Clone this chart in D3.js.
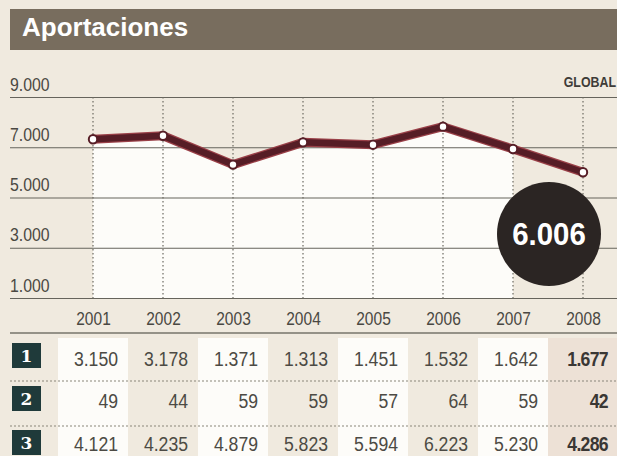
<!DOCTYPE html>
<html>
<head>
<meta charset="utf-8">
<script src="https://cdn.jsdelivr.net/npm/d3@7"></script>
<style>
  html, body { margin: 0; padding: 0; background: #f0eadf; }
  svg { display: block; }
  .num { font-family: "Liberation Sans Narrow", "Liberation Sans", Arial, sans-serif; }
</style>
</head>
<body>
<div id="chart"></div>
<script>
// ---- data ----
const years = ["2001", "2002", "2003", "2004", "2005", "2006", "2007", "2008"];
const totals = [7320, 7457, 6309, 7195, 7102, 7819, 6931, 6006];
const row1 = [3150, 3178, 1371, 1313, 1451, 1532, 1642, 1677];
const row2 = [49, 44, 59, 59, 57, 64, 59, 42];
const row3 = [4121, 4235, 4879, 5823, 5594, 6223, 5230, 4286];
const rowLabels = ["1", "2", "3"];
const yTicks = [9000, 7000, 5000, 3000, 1000];
const title = "Aportaciones";
const seriesLabel = "GLOBAL";
const highlight = "6.006";

const W = 617, H = 456;
const SX = 0.84; // horizontal condensing to imitate the narrow newspaper face
const loc = d3.formatLocale({ decimal: ",", thousands: ".", grouping: [3], currency: ["", "€"] });
const fmt = loc.format(",d");

const svg = d3.select("#chart").append("svg").attr("width", W).attr("height", H);

svg.append("rect").attr("width", W).attr("height", H).attr("fill", "#f0eadf");

// title bar
svg.append("rect").attr("x", 10).attr("y", 9).attr("width", W - 10).attr("height", 41).attr("fill", "#786d5e");
svg.append("text").attr("transform", "translate(22,36)")
  .attr("font-family", "'Liberation Sans', Arial, sans-serif").attr("font-weight", "bold")
  .attr("font-size", 26).attr("fill", "#ffffff").text(title);

// scales
const x = d3.scalePoint().domain(years).range([93, 583]);
const y = d3.scaleLinear().domain([1000, 9000]).range([298, 97]);

// white area under the line (2001-2007)
const areaData = years.slice(0, 7).map((yr, i) => ({ yr, v: totals[i] }));
svg.append("path").datum(areaData)
  .attr("fill", "#fdfcf9")
  .attr("d", d3.area().x(d => x(d.yr)).y0(y(1000)).y1(d => y(d.v)));

// horizontal gridlines + y labels via axis
const yAxis = d3.axisLeft(y).tickValues(yTicks).tickSize(-(W - 10)).tickFormat(fmt);
const gy = svg.append("g").attr("transform", `translate(10,0)`).call(yAxis);
gy.select(".domain").remove();
gy.selectAll(".tick line").attr("stroke", "#66645c").attr("stroke-width", 1.2);
gy.selectAll(".tick text")
  .attr("class", "num").attr("x", 0).attr("y", -7).attr("dy", 0).attr("text-anchor", "start")
  .attr("transform", `scale(${SX + 0.04},1)`)
  .attr("font-size", 18).attr("fill", "#4a4842");

// vertical dotted gridlines
svg.append("g").selectAll("line").data(years).join("line")
  .attr("x1", d => x(d)).attr("x2", d => x(d))
  .attr("y1", y(9000)).attr("y2", y(1000))
  .attr("stroke", "#6d6a62").attr("stroke-width", 1.2).attr("stroke-dasharray", "1.5,2.5");

// GLOBAL label
svg.append("text").attr("transform", `translate(616,87) scale(0.8,1)`).attr("text-anchor", "end")
  .attr("class", "num").attr("font-weight", "bold").attr("font-size", 15.5)
  .attr("fill", "#3e3c38").text(seriesLabel);

// line
const pts = years.map((yr, i) => ({ yr, v: totals[i] }));
const lineGen = d3.line().x(d => x(d.yr)).y(d => y(d.v));
svg.append("path").datum(pts).attr("fill", "none").attr("stroke", "#9a4048")
  .attr("stroke-width", 9).attr("stroke-linejoin", "round").attr("d", lineGen);
svg.append("path").datum(pts).attr("fill", "none").attr("stroke", "#561d26")
  .attr("stroke-width", 6.5).attr("stroke-linejoin", "round").attr("d", lineGen);
svg.append("g").selectAll("circle").data(pts).join("circle")
  .attr("cx", d => x(d.yr)).attr("cy", d => y(d.v)).attr("r", 4.2)
  .attr("fill", "#ffffff").attr("stroke", "#561d26").attr("stroke-width", 2);

// highlight bubble
svg.append("circle").attr("cx", 549).attr("cy", 234).attr("r", 52).attr("fill", "#2b2523");
svg.append("text").attr("transform", "translate(549,245) scale(0.95,1)").attr("text-anchor", "middle")
  .attr("font-family", "'Liberation Sans', Arial, sans-serif").attr("font-weight", "bold")
  .attr("font-size", 31).attr("fill", "#ffffff").text(highlight);

// year labels via bottom axis
const xAxis = d3.axisBottom(x).tickSize(0).tickPadding(0);
const gx = svg.append("g").attr("transform", `translate(0,325)`).call(xAxis);
gx.select(".domain").remove();
gx.selectAll(".tick text").attr("class", "num").attr("dy", 0).attr("y", 0)
  .attr("transform", `scale(${SX},1)`)
  .attr("font-size", 18.5).attr("fill", "#4a4842");

// table
const rows = [row1, row2, row3];
const rowBase = [366, 408, 451];
const boxTop = [343, 386, 430];
const colW = x.step();

svg.append("g").selectAll("rect").data(years).join("rect")
  .attr("x", d => x(d) - colW / 2).attr("y", 338).attr("width", colW).attr("height", H - 338)
  .attr("fill", (d, i) => i === 7 ? "#ede1d6" : (i % 2 === 0 ? "#fdfcf9" : "#f0eadf"));

svg.append("line").attr("x1", 10).attr("x2", W).attr("y1", 333).attr("y2", 333)
  .attr("stroke", "#77746b").attr("stroke-width", 1.5);
svg.append("g").selectAll("line").data([381, 426]).join("line")
  .attr("x1", 10).attr("x2", W).attr("y1", d => d).attr("y2", d => d)
  .attr("stroke", "#8a857b").attr("stroke-width", 1.2).attr("stroke-dasharray", "2,2");

// row label boxes
const gl = svg.append("g").selectAll("g").data(rowLabels).join("g");
gl.append("rect").attr("x", 12).attr("y", (d, i) => boxTop[i]).attr("width", 29).attr("height", 25)
  .attr("fill", "#1f3a3a");
gl.append("text").attr("x", 26.5).attr("y", (d, i) => boxTop[i] + 19).attr("text-anchor", "middle")
  .attr("font-family", "'DejaVu Serif', serif").attr("font-weight", "bold").attr("font-size", 17)
  .attr("fill", "#ffffff").text(d => d);

// row values
rows.forEach((r, ri) => {
  svg.append("g").selectAll("text").data(r).join("text")
    .attr("class", "num")
    .attr("transform", (d, i) => `translate(${x(years[i]) + 25},${rowBase[ri]}) scale(${SX},1)`)
    .attr("text-anchor", "end").attr("font-size", 21)
    .attr("font-weight", (d, i) => i === 7 ? "bold" : "normal")
    .attr("letter-spacing", (d, i) => i === 7 ? -0.8 : 0)
    .attr("fill", (d, i) => i === 7 ? "#3a3734" : "#4c4a44")
    .text(d => fmt(d));
});
</script>
</body>
</html>
